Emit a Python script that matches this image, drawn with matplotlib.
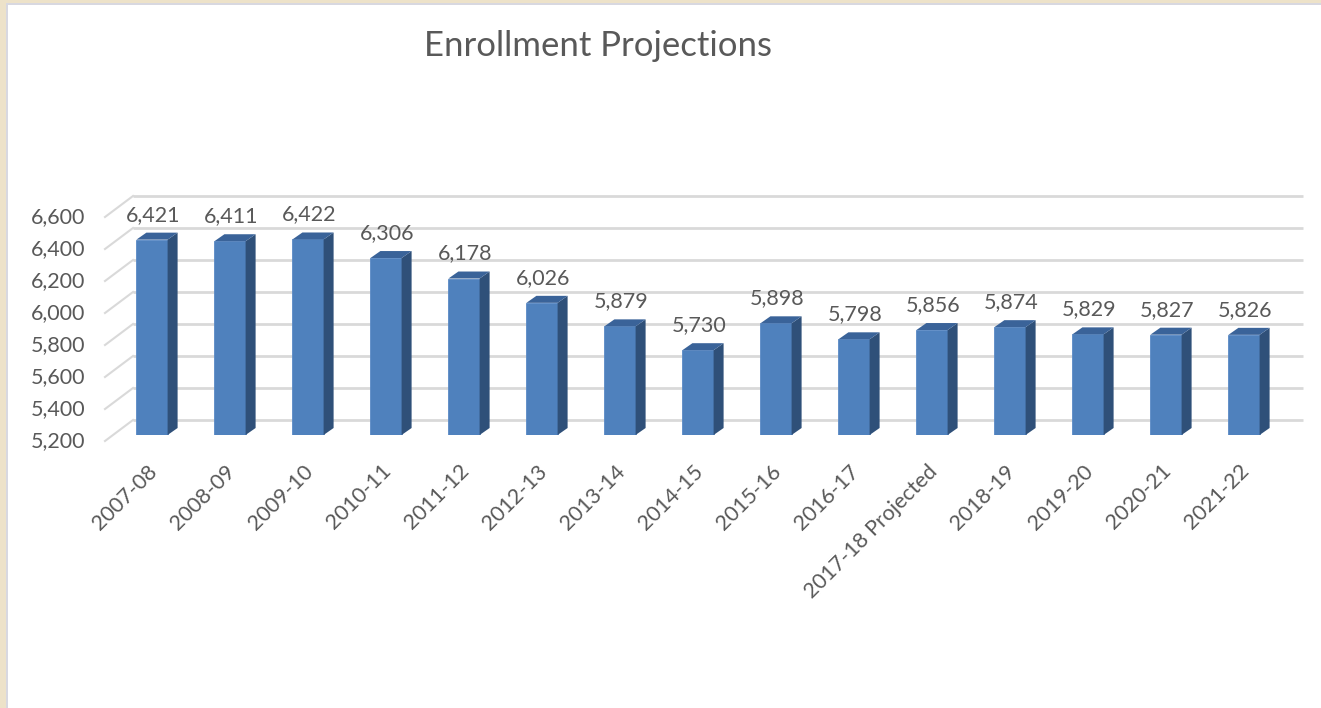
import numpy as np
import matplotlib
matplotlib.use('Agg')
import matplotlib.pyplot as plt
from matplotlib.patches import Polygon, Rectangle

plt.rcParams['font.family'] = ['Lato', 'DejaVu Sans']

# data
years = ['2007-08', '2008-09', '2009-10', '2010-11', '2011-12', '2012-13', '2013-14',
         '2014-15', '2015-16', '2016-17', '2017-18 Projected', '2018-19', '2019-20',
         '2020-21', '2021-22']
enrollment = [6421, 6411, 6422, 6306, 6178, 6026, 5879, 5730, 5898, 5798,
              5856, 5874, 5829, 5827, 5826]
yticks = [5200, 5400, 5600, 5800, 6000, 6200, 6400, 6600]

W, H = 1321, 708
fig = plt.figure(figsize=(W / 100, H / 100), dpi=100, facecolor='#EDE2C9')
# white slide area with thin grey edge
fig.patches.append(Rectangle((6 / W, 0), 1, (H - 3) / H, transform=fig.transFigure,
                             facecolor='#D8D8E0', edgecolor='none', zorder=-2))
fig.patches.append(Rectangle((8 / W, 0), 1, (H - 5) / H, transform=fig.transFigure,
                             facecolor='white', edgecolor='none', zorder=-1))

ymin, ymax = 5200, 6600
n = len(years)
# axes = plane of the bar front faces
ax = fig.add_axes([113 / W, (H - 435) / H, 1170 / W, 224 / H])
ax.set_xlim(-0.5, n - 0.5)
ax.set_ylim(ymin, ymax)
ax.axis('off')

ux = 1170 / n            # px per category
uy = 224 / (ymax - ymin)  # px per unit


def off(dx, dy):
    # pixel offset -> data offset
    return dx / ux, dy / uy


grid_c = '#D9D9D9'
text_c = '#595959'
fs = 15.5
bx, by = off(20, 15)     # back wall
fx, fy = off(-8, -6)     # front edge
for t in yticks:
    ax.plot([-0.5 + bx, n - 0.5 + bx], [t + by, t + by], color=grid_c, lw=2,
            zorder=1, clip_on=False, solid_capstyle='butt')
    ax.plot([-0.5 + fx, -0.5 + bx], [t + fy, t + by], color=grid_c, lw=1.5,
            zorder=1, clip_on=False)
    ax.text(-0.5 + off(-28, 0)[0], t + fy, f'{t:,}', ha='right', va='center',
            fontsize=fs, color=text_c)

# bars with fake depth
w = 0.4
dx, dy = off(10, 7)
x = np.arange(n)
ax.bar(x, np.array(enrollment) - ymin, bottom=ymin, width=w, color='#4F81BD',
       edgecolor='#5A8AC6', lw=0.6, zorder=3)
for i, v in enumerate(enrollment):
    r = i + w / 2
    l = i - w / 2
    ax.add_patch(Polygon([(r, ymin), (r + dx, ymin + dy), (r + dx, v + dy), (r, v)],
                         closed=True, facecolor='#2F5079', edgecolor='none',
                         zorder=3, clip_on=False))
    ax.add_patch(Polygon([(l, v), (l + dx, v + dy), (r + dx, v + dy), (r, v)],
                         closed=True, facecolor='#3A6399', edgecolor='none',
                         zorder=3, clip_on=False))
    ax.text(i + off(1, 0)[0], v + dy + off(0, 8)[1], f'{v:,}', ha='center',
            va='bottom', fontsize=fs, color=text_c)
    ax.text(i + off(-5, 0)[0], ymin + off(0, -26)[1], years[i], rotation=45,
            rotation_mode='anchor', ha='right', va='top', fontsize=fs, color=text_c)

fig.text(598 / W, 1 - 46 / H, 'Enrollment Projections', ha='center', va='center',
         fontsize=25, color=text_c)

fig.savefig('out.png', dpi=100, facecolor=fig.get_facecolor())
